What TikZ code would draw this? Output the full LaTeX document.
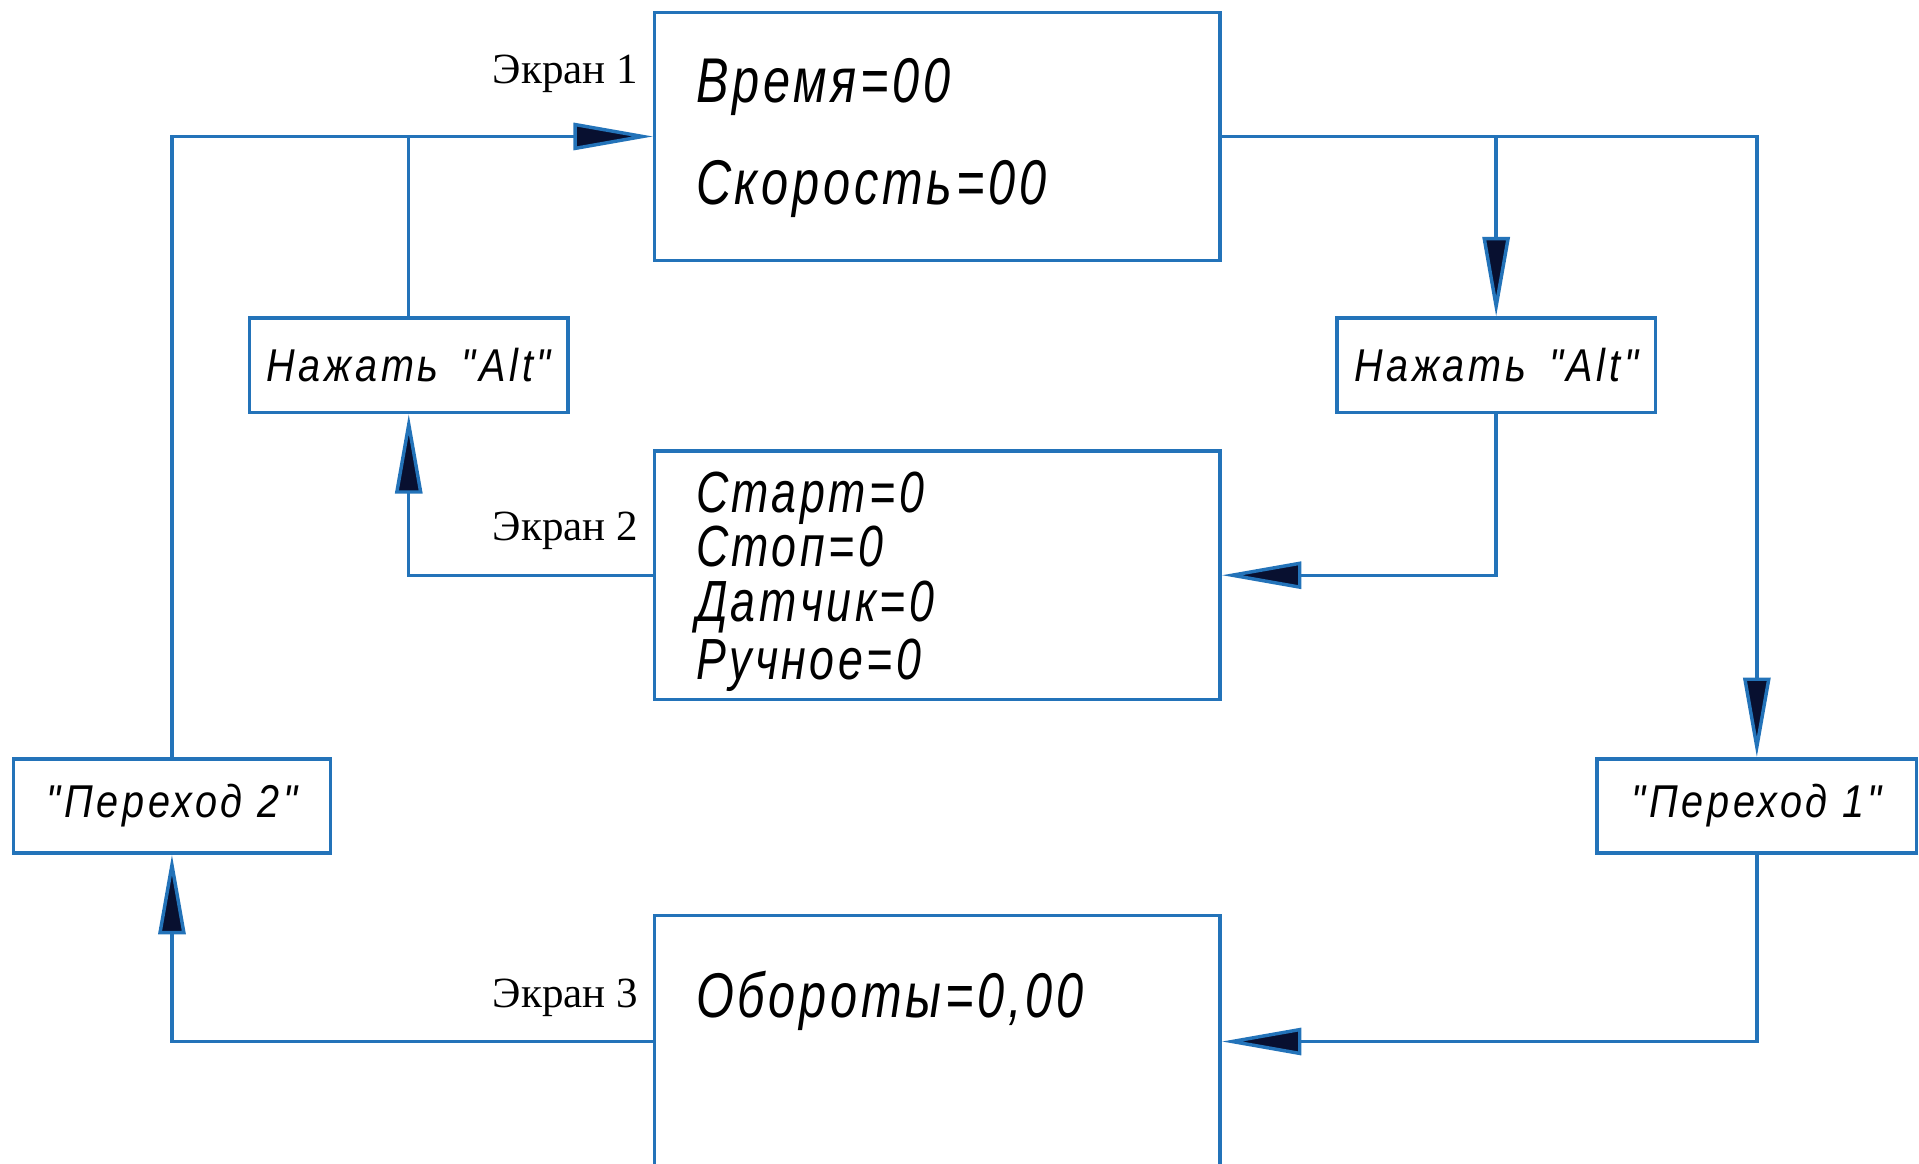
\documentclass[tikz,border=0pt]{standalone}
\usepackage{fontspec}
\newfontfamily\gostfont[FakeStretch=0.77,LetterSpace=6]{Liberation Sans}
\newfontfamily\gostkeyfont[FakeStretch=0.86,LetterSpace=8]{Liberation Sans}
\newfontfamily\labelfont{Liberation Serif}
\usetikzlibrary{arrows.meta}
\definecolor{linec}{RGB}{35,115,185}
\definecolor{tipc}{RGB}{8,16,48}
\begin{document}
\begin{tikzpicture}[x=0.1mm,y=-0.1mm,
  screenbox/.style={draw=linec,line width=0.8pt,minimum width=4.62cm,minimum height=2.03cm,inner sep=0pt},
  keybox/.style={draw=linec,line width=0.8pt,minimum width=2.6cm,minimum height=0.77cm,inner sep=0pt,font=\gostkeyfont\itshape\fontsize{10.7}{12}\selectfont},
  screentext/.style={anchor=base west,inner sep=0pt,font=\gostfont\itshape\fontsize{14.7}{17}\selectfont},
  smalltext/.style={screentext,font=\gostfont\itshape\fontsize{13.5}{15}\selectfont},
  screenlbl/.style={anchor=east,inner sep=0pt,font=\labelfont\fontsize{10}{12}\selectfont},
  flow/.style={draw=linec,line width=0.8pt},
  flowarrow/.style={flow,-{Triangle[length=6.5mm,width=2.2mm,fill=tipc]}}]
\useasboundingbox (0,0) rectangle (1568,951);
\node[screenbox] (s1) at (766,111.5) {};
\node[screenbox] (s2) at (766,470) {};
\node[screenbox,minimum height=2.06cm] (s3) at (766,851) {};
\node[keybox] (altL) at (334,298.5) {Нажать\hspace{0.5em}"Alt"};
\node[keybox] (altR) at (1222.5,298.5) {Нажать\hspace{0.5em}"Alt"};
\node[keybox,minimum width=2.59cm] (per2) at (140.5,658.5) {"Переход 2"};
\node[keybox,minimum width=2.61cm] (per1) at (1435.5,658.5) {"Переход 1"};
\node[screenlbl] (l1) at (522,60) {Экран 1};
\node[screenlbl] (l2) at (522,434) {Экран 2};
\node[screenlbl] (l3) at (522,815) {Экран 3};
\node[screentext] (t11) at (568,84) {Время=00};
\node[screentext] (t12) at (568,167) {Скорость=00};
\node[smalltext] (t21) at (568,419) {Старт=0};
\node[smalltext] (t22) at (568,463) {Стоп=0};
\node[smalltext] (t23) at (568,508) {Датчик=0};
\node[smalltext] (t24) at (568,555) {Ручное=0};
\node[screentext] (t31) at (568,831) {Обороты=0,00};
\coordinate (jL) at (altL.north |- s1.west);
\coordinate (jR) at (altR.north |- s1.east);
\draw[flowarrow] (per2.north) |- (s1.west);
\draw[flow] (altL.north) -- (jL);
\draw[flowarrow] (s1.east) -| (per1.north);
\draw[flowarrow] (jR) -- (altR.north);
\draw[flowarrow] (altR.south) |- (s2.east);
\draw[flowarrow] (s2.west) -| (altL.south);
\draw[flowarrow] (per1.south) |- (s3.east);
\draw[flowarrow] (s3.west) -| (per2.south);
\end{tikzpicture}
\end{document}
